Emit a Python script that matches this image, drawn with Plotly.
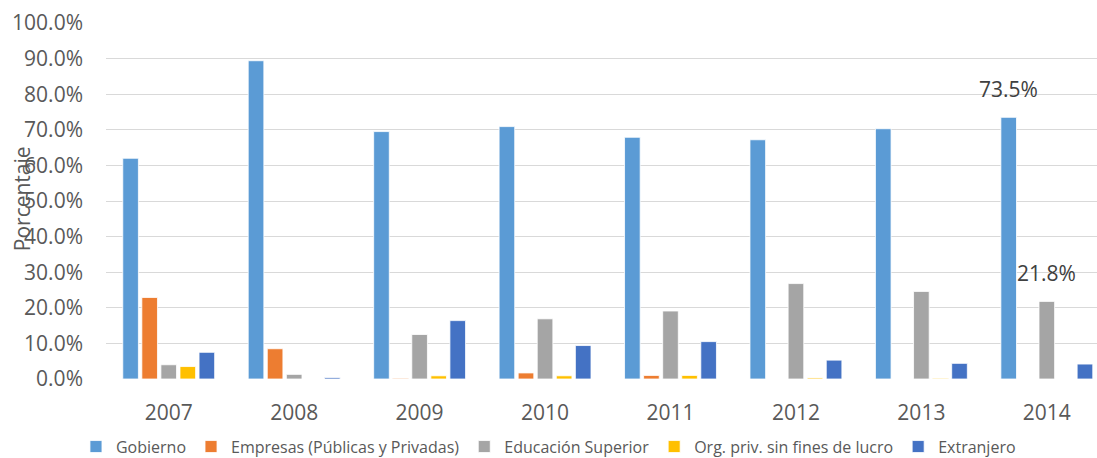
import plotly.graph_objects as go

# Years on the category axis
years = ["2007", "2008", "2009", "2010", "2011", "2012", "2013", "2014"]

# Share of funding by source (percent of total)
gobierno = [62.0, 89.4, 69.5, 70.9, 67.9, 67.2, 70.3, 73.5]
empresas = [22.9, 8.5, 0.2, 1.7, 1.0, 0.0, 0.0, 0.0]
educacion = [4.0, 1.3, 12.5, 16.9, 19.1, 26.8, 24.6, 21.8]
org_priv = [3.5, 0.0, 0.9, 0.9, 1.0, 0.3, 0.2, 0.0]
extranjero = [7.5, 0.4, 16.4, 9.4, 10.5, 5.3, 4.4, 4.2]

series = [
    ("Gobierno", gobierno, "#5B9BD5"),
    ("Empresas (Públicas y Privadas)", empresas, "#ED7D31"),
    ("Educación Superior", educacion, "#A5A5A5"),
    ("Org. priv. sin fines de lucro", org_priv, "#FFC000"),
    ("Extranjero", extranjero, "#4472C4"),
]

FONT = "Open Sans"
TICK_COLOR = "#595959"
BARGAP = 0.24
PLOT_LEFT, PLOT_W = 106, 991

fig = go.Figure()
for name, vals, color in series:
    fig.add_trace(go.Bar(
        x=years,
        y=[v / 100 for v in vals],
        name=name,
        marker=dict(color=color, line=dict(color="white", width=0.8)),
        hoverinfo="x+y+name",
    ))

# Data labels for the 2014 Gobierno and Educación Superior bars
slot = (1 - BARGAP) / len(series)
last = len(years) - 1
for idx, vals in [(0, gobierno), (2, educacion)]:
    offset = (idx - (len(series) - 1) / 2) * slot
    fig.add_annotation(
        x=last + offset, y=vals[last] / 100, xref="x", yref="y",
        text=f"{vals[last]:.1f}%", showarrow=False, yshift=28,
        font=dict(family=FONT, size=21, color="#404040"),
    )

# Axis title drawn over the tick labels
fig.add_annotation(
    x=(22 - PLOT_LEFT) / PLOT_W, xref="paper", y=0.505, yref="paper",
    text="Porcentaje", showarrow=False, textangle=-90,
    xanchor="center", yanchor="middle",
    font=dict(family=FONT, size=21, color=TICK_COLOR),
)

fig.update_layout(
    width=1097, height=458,
    margin=dict(l=PLOT_LEFT, r=0, t=23, b=79, autoexpand=False),
    paper_bgcolor="white", plot_bgcolor="white",
    barmode="group", bargap=BARGAP, bargroupgap=0.18,
    font=dict(family=FONT, color=TICK_COLOR),
    showlegend=True,
    legend=dict(
        orientation="h", x=-0.0303, xanchor="left", y=-0.19, yanchor="middle",
        font=dict(family=FONT, size=16, color=TICK_COLOR),
        itemwidth=30, tracegroupgap=0,
    ),
    xaxis=dict(
        type="category", range=[-0.5, 7.4], showgrid=False, zeroline=False,
        showline=False, ticks="", ticklabelstandoff=19,
        tickfont=dict(family=FONT, size=21, color=TICK_COLOR),
    ),
    yaxis=dict(
        range=[0, 1.0], tickvals=[i / 10 for i in range(11)], tickformat=".1%",
        showgrid=True, gridcolor="#D9D9D9", gridwidth=1, zeroline=False,
        showline=False, ticks="", ticklabelstandoff=22,
        tickfont=dict(family=FONT, size=21, color=TICK_COLOR),
    ),
)

fig.write_html("out.html")
